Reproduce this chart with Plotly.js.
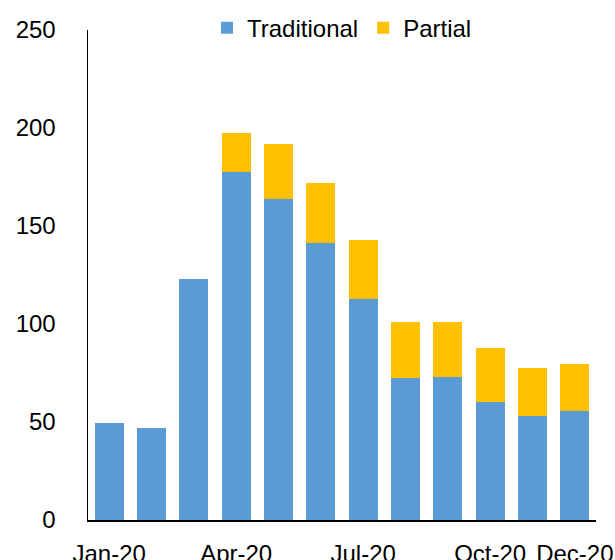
<!DOCTYPE html>
<html>
<head>
<meta charset="utf-8">
<script src="https://cdn.plot.ly/plotly-3.0.1.min.js"></script>
<style>html,body{margin:0;padding:0;background:#fff;}#chart{width:615px;height:560px;}</style>
</head>
<body>
<div id="chart"></div>
<script>
const months = ["Jan-20","Feb-20","Mar-20","Apr-20","May-20","Jun-20","Jul-20","Aug-20","Sep-20","Oct-20","Nov-20","Dec-20"];
const traditional = [49.3, 46.8, 123, 177.4, 163.6, 141.3, 112.8, 72.3, 72.8, 60.4, 53.1, 55.6];
const partial = [0, 0, 0, 20.2, 28.4, 30.5, 30.1, 28.6, 28.4, 27.2, 24.6, 24.0];
const xTickVals = ["Jan-20","Apr-20","Jul-20","Oct-20","Dec-20"];
const yTickVals = [0, 50, 100, 150, 200, 250];

const data = [
  {type:"bar", name:"Traditional", x:months, y:traditional, marker:{color:"#5B9BD5"}},
  {type:"bar", name:"Partial", x:months, y:partial, marker:{color:"#FFC000"}}
];
const layout = {
  width:615, height:560,
  barmode:"stack", bargap:0.31,
  margin:{l:88, r:19, t:30, b:40, autoexpand:false},
  paper_bgcolor:"#fff", plot_bgcolor:"#fff",
  font:{family:"Liberation Sans, Arial, sans-serif", size:24, color:"#000"},
  showlegend:true,
  legend:{orientation:"h", x:0.5, xanchor:"center", y:1.004, yanchor:"middle",
          traceorder:"normal", font:{size:24}, itemwidth:30, bgcolor:"rgba(0,0,0,0)"},
  xaxis:{type:"category", tickmode:"array", tickvals:xTickVals, ticktext:xTickVals,
         showline:true, linecolor:"#000", linewidth:1.5, ticks:"", showgrid:false,
         ticklabelstandoff:12, tickangle:0, automargin:false},
  yaxis:{range:[0,250], tickmode:"array", tickvals:yTickVals,
         showline:true, linecolor:"#000", linewidth:1.5, ticks:"", showgrid:false,
         zeroline:false, ticklabelstandoff:26, automargin:false}
};
Plotly.newPlot("chart", data, layout, {displayModeBar:false, staticPlot:true});
</script>
</body>
</html>
